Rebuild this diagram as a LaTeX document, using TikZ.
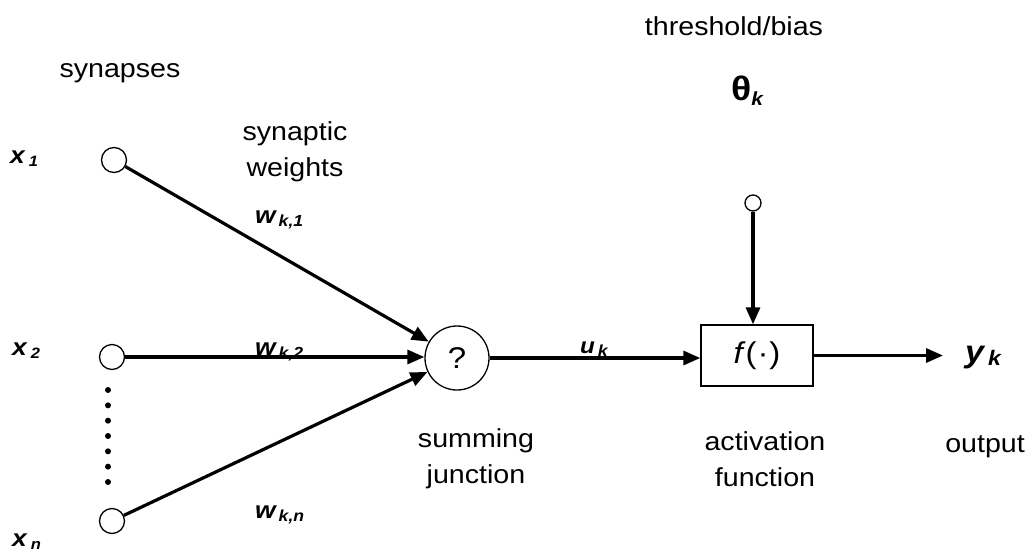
\documentclass[tikz,border=0pt]{standalone}
\usepackage{fontspec}
\setmainfont{Liberation Sans}[FakeStretch=1.1]
\usetikzlibrary{arrows.meta}
% #1 main size, #2 main text, #3 sub size, #4 sub text, #5 drop, #6 kern
\newcommand{\varlab}[6]{{\fontsize{#1}{#1}\selectfont\bfseries\itshape #2}\kern#6\raisebox{-#5}{\fontsize{#3}{#3}\selectfont\bfseries\itshape #4}}
\begin{document}
\begin{tikzpicture}[x=1pt,y=-1pt,
  txt/.style={font=\fontsize{26}{36}\selectfont, align=center, inner sep=0pt},
  lab/.style={inner sep=0pt, anchor=base west},
  inp/.style={circle, draw, line width=1.3pt, minimum size=25pt, inner sep=0pt},
  wire/.style={line width=3.2pt, -{Triangle[length=17pt,width=14pt]}}]
\useasboundingbox (0,0) rectangle (1029,552);

% nodes
\node[inp] (in1) at (114,160) {};
\node[inp] (in2) at (112,357) {};
\node[inp] (inn) at (112,521) {};
\node[circle, draw, line width=1.3pt, minimum size=64pt, inner sep=0pt,
      font=\fontsize{30}{30}\selectfont] (sum) at (457,358) {?};
\node[draw, line width=1.3pt, minimum width=112pt, minimum height=61pt, inner sep=0pt,
      font=\fontsize{30}{30}\selectfont] (act) at (757,355.5) {\textit{f}(\kern1pt·\kern1pt)};
\node[circle, draw, line width=1.3pt, minimum size=16pt, inner sep=0pt] (bias) at (753,203) {};
\coordinate (out) at (943,355.5);
\coordinate (dtop) at (108,390);
\coordinate (dbot) at (108,482.5);

% connectors
\draw[wire] (in1) -- (sum);
\draw[wire] (in2.east) -- (in2.east -| sum.west);
\draw[wire] (inn) -- (sum);
\draw[wire] (sum.east) -- (sum.east -| act.west);
\draw[wire] (bias.south) -- (bias.south |- act.north);
\draw[wire] (act.east) -- (out);
\draw[line width=6pt, line cap=round, dash pattern=on 0pt off 15.333pt] (dtop) -- (dbot);

% texts
\node[txt, anchor=base] (syn) at (120,77) {synapses};
\node[txt, anchor=base] (thr) at (734,35) {threshold/bias};
\node[txt] (sw) at (295,152) {synaptic\\weights};
\node[txt] (sj) at (476,459) {summing\\junction};
\node[txt] (af) at (765,459) {activation\\function};
\node[txt, anchor=base] (outl) at (985,452) {output};

\node[lab] (theta) at (731,100) {{\fontsize{34}{34}\selectfont\bfseries θ}\raisebox{-5pt}{\fontsize{19}{19}\selectfont\bfseries\itshape k}};
\node[lab] (x1) at (10,163) {\varlab{24}{x}{15}{1}{3pt}{4pt}};
\node[lab] (x2) at (12,355) {\varlab{24}{x}{15}{2}{3pt}{4pt}};
\node[lab] (xn) at (12,546) {\varlab{24}{x}{15}{n}{3pt}{4pt}};
\node[lab] (w1) at (255,223) {\varlab{24}{w}{16}{k,1}{3pt}{3pt}};
\node[lab] (w2) at (255,355) {\varlab{24}{w}{16}{k,2}{3pt}{3pt}};
\node[lab] (wn) at (255,518) {\varlab{24}{w}{16}{k,n}{3pt}{3pt}};
\node[lab] (uk) at (580,353) {\varlab{22}{u}{16}{k}{3pt}{3pt}};
\node[lab] (yk) at (965,362) {\varlab{31}{y}{21}{k}{3pt}{4pt}};
\end{tikzpicture}
\end{document}
